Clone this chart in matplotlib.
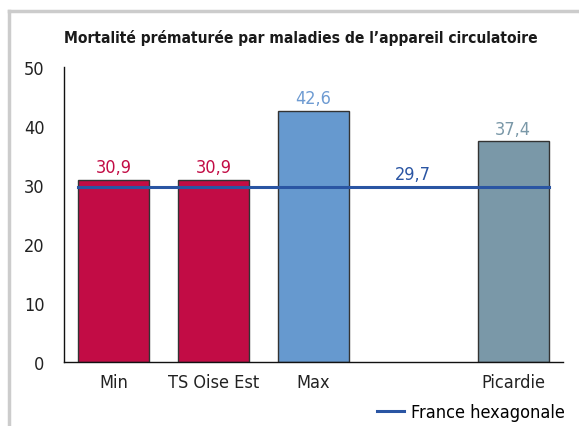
import matplotlib.pyplot as plt
from matplotlib.lines import Line2D

categories = ['Min', 'TS Oise Est', 'Max', '', 'Picardie']
values = [30.9, 30.9, 42.6, None, 37.4]
labels = ['30,9', '30,9', '42,6', None, '37,4']
france_value = 29.7
france_label = '29,7'

bar_colors = ['#C20C45', '#C20C45', '#6699CF', None, '#7A98A8']
text_colors = ['#C20C45', '#C20C45', '#6E9BD2', None, '#7A98A8']
line_color = '#2A55A3'

plt.rcParams['font.family'] = ['DejaVu Sans']
plt.rcParams['font.stretch'] = 'condensed'

fig = plt.figure(figsize=(5.79, 4.27), dpi=100)
ax = fig.add_axes([64 / 579, 1 - 363 / 427, 499 / 579, 295 / 427])

w = 0.71
for i, v in enumerate(values):
    if v is None:
        continue
    ax.bar(i, v, width=w, color=bar_colors[i], edgecolor='#333333', linewidth=1.0, zorder=2)
    ax.text(i, v + 0.6, labels[i], ha='center', va='bottom', fontsize=13, color=text_colors[i])

ax.plot([-w / 2, 4 + w / 2], [france_value, france_value], color=line_color, linewidth=2.2, zorder=3)
ax.text(3, france_value + 0.7, france_label, ha='center', va='bottom', fontsize=13, color=line_color)

ax.set_xlim(-0.5, 4.5)
ax.set_ylim(0, 50)
ax.set_yticks(range(0, 51, 10))
ax.set_xticks(range(len(categories)))
ax.set_xticklabels(categories)
ax.tick_params(axis='both', length=0, labelsize=13, colors='#222222', pad=8)
ax.tick_params(axis='y', pad=14)
for side in ['top', 'right']:
    ax.spines[side].set_visible(False)
for side in ['left', 'bottom']:
    ax.spines[side].set_color('#111111')
    ax.spines[side].set_linewidth(1.0)

fig.text(301 / 579, 1 - 38 / 427, 'Mortalité prématurée par maladies de l\u2019appareil circulatoire',
         ha='center', va='center', fontsize=11.2, fontweight='bold', color='#1A1A1A')

# light grey frame along the top and left edges
fig.add_artist(Line2D([9 / 579, 1], [1 - 12 / 427, 1 - 12 / 427], color='#CCCCCC', linewidth=2.5))
fig.add_artist(Line2D([9 / 579, 9 / 579], [0, 1 - 12 / 427], color='#CCCCCC', linewidth=2.5))

handle = Line2D([], [], color=line_color, linewidth=2.2)
fig.legend([handle], ['France hexagonale'], loc='center right', bbox_to_anchor=(581 / 579, 1 - 413 / 427),
           frameon=False, fontsize=13, handlelength=1.5, handletextpad=0.4)

fig.savefig('out.png', dpi=100)
